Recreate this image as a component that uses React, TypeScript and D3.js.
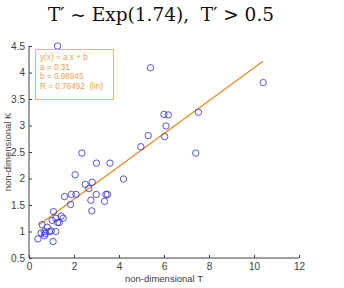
import React, { useEffect, useRef } from "react";
import * as d3 from "d3";

// non-dimensional T (x) and K (y) for each sample
const tValues = [
  1.27, 5.4, 10.41, 7.53, 6.0, 6.19, 6.09, 6.03, 5.3, 4.97, 7.41,
  2.35, 3.0, 3.6, 2.05, 4.2, 2.5, 2.81, 2.66, 1.88, 2.09, 2.99, 3.42, 3.49,
  1.58, 2.75, 3.36, 1.85, 2.79, 1.09, 1.43, 1.52, 1.03, 1.19, 1.27, 1.34,
  0.58, 0.81, 0.69, 0.54, 0.9, 1.19, 0.4, 0.72, 0.69, 1.07, 0.99,
];
const kValues = [
  4.5, 4.09, 3.81, 3.25, 3.21, 3.2, 2.99, 2.79, 2.81, 2.6, 2.48,
  2.48, 2.29, 2.29, 2.07, 1.99, 1.89, 1.93, 1.81, 1.7, 1.7, 1.7, 1.7, 1.7,
  1.66, 1.59, 1.57, 1.51, 1.39, 1.375, 1.29, 1.25, 1.21, 1.25, 1.17, 1.17,
  1.13, 1.08, 1.0, 0.97, 1.0, 1.0, 0.86, 0.96, 0.92, 0.81, 1.01,
];

// linear fit y = a x + b
const fitA = 0.31;
const fitB = 0.98945;
const fitR = 0.76492;
const fitRange = [0.45, 10.4];

const xTicks = [0, 2, 4, 6, 8, 10, 12];
const yTicks = [0.5, 1, 1.5, 2, 2.5, 3, 3.5, 4, 4.5];
const legendLines = [
  "y(x) = a x + b",
  `a = ${fitA}`,
  `b = ${fitB}`,
  `R = ${fitR}  (lin)`,
];

const W = 344;
const H = 288;
const margin = { left: 29, right: 45, top: 46, bottom: 30 };

export default function App() {
  const ref = useRef<SVGSVGElement>(null);

  useEffect(() => {
    const svg = d3.select(ref.current);
    svg.selectAll("*").remove();

    const x = d3.scaleLinear().domain([0, 12]).range([margin.left, W - margin.right]);
    const y = d3.scaleLinear().domain([0.5, 4.5]).range([H - margin.bottom, margin.top]);
    const axisColor = "#404040";
    const font = "'Liberation Sans', Arial, sans-serif";

    svg.append("text")
      .attr("x", 161)
      .attr("y", 21)
      .attr("text-anchor", "middle")
      .attr("font-family", "'DejaVu Serif', serif")
      .attr("font-size", 18.5)
      .attr("fill", "#111")
      .attr("xml:space", "preserve")
      .text("T\u2032 ~ Exp(1.74),  T\u2032 > 0.5");

    // axes, MATLAB style with inward ticks
    const xAxis = svg.append("g")
      .attr("transform", `translate(0,${y(0.5)})`)
      .call(d3.axisTop(x).tickValues(xTicks).tickSize(3).tickFormat(d3.format("d")));
    xAxis.select(".domain").attr("d", `M${x(0)},0H${x(12)}`);
    xAxis.selectAll("text").attr("y", 12).attr("dy", "0");

    const yAxis = svg.append("g")
      .attr("transform", `translate(${x(0)},0)`)
      .call(d3.axisRight(y).tickValues(yTicks).tickSize(3).tickFormat(d => String(d)));
    yAxis.select(".domain").attr("d", `M0,${y(0.5)}V${y(4.5)}`);
    yAxis.selectAll("text").attr("x", -4).attr("text-anchor", "end");

    svg.selectAll(".domain, .tick line").attr("stroke", axisColor);
    svg.selectAll(".tick text")
      .attr("fill", axisColor)
      .attr("font-family", font)
      .attr("font-size", 10);

    svg.append("text")
      .attr("x", (x(0) + x(12)) / 2)
      .attr("y", 282)
      .attr("text-anchor", "middle")
      .attr("font-family", font)
      .attr("font-size", 9.5)
      .attr("fill", axisColor)
      .text("non-dimensional T");

    svg.append("text")
      .attr("transform", `translate(11,${(y(0.5) + y(4.5)) / 2}) rotate(-90)`)
      .attr("text-anchor", "middle")
      .attr("font-family", font)
      .attr("font-size", 9.5)
      .attr("fill", axisColor)
      .text("non-dimensional K");

    // fitted line
    const line = d3.line<number>().x(d => x(d)).y(d => y(fitA * d + fitB));
    svg.append("path")
      .attr("d", line(fitRange))
      .attr("stroke", "#ee8a22")
      .attr("stroke-width", 1.3)
      .attr("fill", "none");

    // samples
    svg.append("g")
      .selectAll("circle")
      .data(tValues.map((t, i) => [t, kValues[i]]))
      .join("circle")
      .attr("cx", d => x(d[0]))
      .attr("cy", d => y(d[1]))
      .attr("r", 3.2)
      .attr("fill", "none")
      .attr("stroke", "#2b2bd6")
      .attr("stroke-width", 0.8);

    // fit summary box
    const box = svg.append("g");
    box.append("rect")
      .attr("x", 35.5)
      .attr("y", 49.5)
      .attr("width", 78)
      .attr("height", 50)
      .attr("fill", "white")
      .attr("stroke", "#f4b070")
      .attr("stroke-width", 1);
    box.selectAll("text")
      .data(legendLines)
      .join("text")
      .attr("x", 40)
      .attr("y", (_, i) => 60 + i * 9.7)
      .attr("font-family", font)
      .attr("font-size", 8.2)
      .attr("xml:space", "preserve")
      .attr("fill", "#f0a050")
      .text(d => d);
  }, []);

  return (
    <svg
      ref={ref}
      width={W}
      height={H}
      style={{ position: "absolute", left: 0, top: 0, background: "white" }}
    />
  );
}
